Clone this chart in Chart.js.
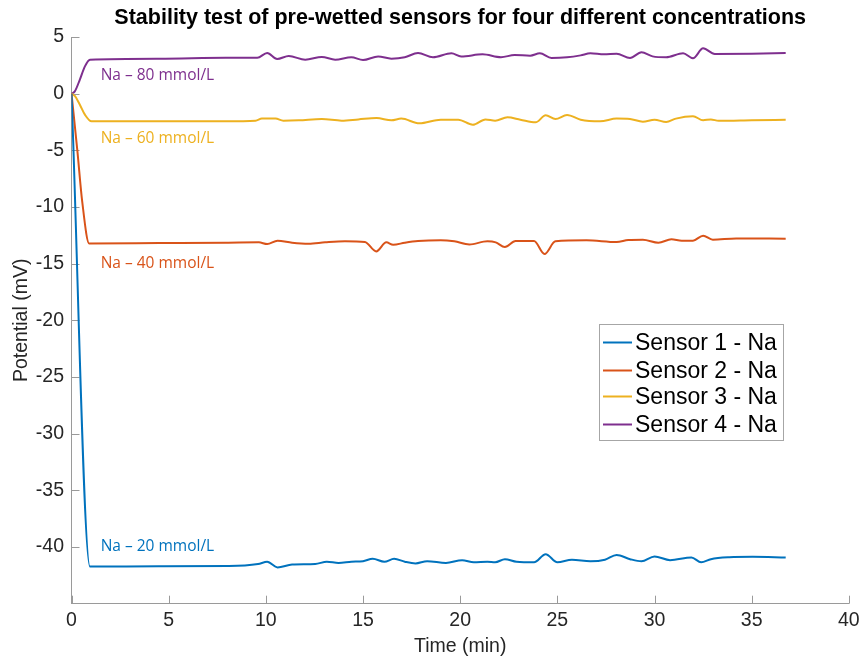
<!DOCTYPE html>
<html><head><meta charset="utf-8">
<script src="https://cdn.jsdelivr.net/npm/chart.js@4.4.0/dist/chart.umd.min.js"></script>
<style>html,body{margin:0;padding:0;background:#fff}</style>
</head><body>
<canvas id="c" width="865" height="659"></canvas>
<script>
// ---- data (time in min, potential in mV) ----
const timesS1 = [0, 0.95, 4.5, 8.1, 9.6, 10.07, 10.6, 11.35, 12.54, 13.14, 13.74, 14.4, 15.0, 15.5, 16.1, 16.6, 17.15, 17.7, 18.3, 19.27, 20.1, 20.7, 21.4, 21.8, 22.3, 22.9, 23.8, 24.4, 25.0, 25.75, 26.7, 27.45, 28.05, 28.74, 29.33, 30.0, 30.8, 31.9, 32.4, 32.9, 33.85, 35.05, 36.75];
const valuesS1 = [0, -41.72, -41.7, -41.68, -41.5, -41.3, -41.8, -41.55, -41.5, -41.3, -41.4, -41.3, -41.25, -41.04, -41.3, -41.04, -41.3, -41.45, -41.25, -41.4, -41.16, -41.35, -41.3, -41.35, -41.07, -41.3, -41.35, -40.63, -41.35, -41.12, -41.26, -41.12, -40.7, -41.07, -41.26, -40.83, -41.16, -40.92, -41.34, -41.07, -40.9, -40.86, -40.92];

const timesS2 = [0, 0.3, 0.55, 0.91, 4.5, 7.94, 9.64, 10.07, 10.6, 11.35, 12.2, 13.05, 14.07, 15.1, 15.68, 16.2, 16.55, 17.15, 17.83, 19.0, 19.7, 20.47, 21.4, 21.83, 22.3, 22.85, 23.8, 24.34, 24.9, 26.5, 28.05, 28.65, 29.4, 30.2, 30.87, 31.4, 31.98, 32.5, 33.0, 34.2, 36.75];
const valuesS2 = [0, -5, -9.5, -13.21, -13.18, -13.15, -13.12, -13.27, -12.97, -13.15, -13.24, -13.12, -13.03, -13.09, -13.92, -13.12, -13.33, -13.15, -13.0, -12.93, -13.03, -13.3, -13.03, -13.12, -13.53, -13.0, -13.0, -14.15, -13.03, -12.94, -13.09, -12.91, -12.88, -13.15, -12.85, -12.97, -12.97, -12.53, -12.88, -12.77, -12.8];

const timesS3 = [0, 0.17, 0.43, 0.69, 1.03, 7.94, 9.47, 9.8, 10.5, 10.9, 11.7, 12.88, 13.9, 14.76, 15.7, 16.46, 16.97, 17.9, 19.0, 19.9, 20.65, 21.3, 21.8, 22.43, 23.1, 23.88, 24.4, 24.9, 25.5, 26.2, 27.2, 28.05, 28.74, 29.4, 30.0, 30.6, 31.1, 31.98, 32.5, 32.9, 33.3, 35.0, 36.75];
const valuesS3 = [0, -0.2, -0.97, -1.85, -2.44, -2.44, -2.38, -2.2, -2.2, -2.38, -2.35, -2.24, -2.38, -2.27, -2.15, -2.35, -2.2, -2.62, -2.3, -2.3, -2.74, -2.27, -2.38, -2.09, -2.3, -2.53, -1.91, -2.24, -1.88, -2.3, -2.44, -2.2, -2.24, -2.47, -2.3, -2.5, -2.2, -1.99, -2.35, -2.27, -2.4, -2.35, -2.3];

const timesS4 = [0, 0.17, 0.43, 0.69, 0.95, 4.5, 7.94, 9.56, 10.07, 10.58, 11.18, 12.03, 12.88, 13.57, 14.4, 15.0, 15.78, 16.46, 17.15, 17.83, 18.6, 19.55, 20.05, 21.15, 22.1, 22.8, 23.6, 24.1, 24.7, 25.5, 26.2, 26.7, 27.4, 28.05, 28.74, 29.33, 29.9, 30.6, 31.47, 31.98, 32.5, 33.1, 35.0, 36.75];
const valuesS4 = [0, 0.2, 1.24, 2.41, 3.0, 3.09, 3.17, 3.17, 3.59, 3.06, 3.32, 3.0, 3.24, 3.0, 3.21, 2.97, 3.29, 3.09, 3.21, 3.59, 3.21, 3.56, 3.28, 3.47, 3.21, 3.41, 3.35, 3.56, 3.15, 3.21, 3.38, 3.56, 3.47, 3.53, 3.15, 3.65, 3.29, 3.21, 3.56, 3.12, 4.0, 3.5, 3.53, 3.59];

const seriesNames = ['Sensor 1 - Na', 'Sensor 2 - Na', 'Sensor 3 - Na', 'Sensor 4 - Na'];
const annotationTexts = ['Na \u2013 20 mmol/L', 'Na \u2013 40 mmol/L', 'Na \u2013 60 mmol/L', 'Na \u2013 80 mmol/L'];
const chartTitle = 'Stability test of pre-wetted sensors for four different concentrations';
const xTickStep = 5;
const yTickStep = 5;

// ---- styles / layout ----
const colors = ['#0072BD', '#D95319', '#EDB120', '#7E2F8E'];
const annotationAnchors = [[1.5, -39.98], [1.5, -15.0], [1.5, -3.97], [1.5, 1.59]];
const AXIS_COLOR = '#9a9a9a';
const TEXT_COLOR = '#262626';
const FONT = "'Liberation Sans', Arial, Helvetica, sans-serif";

function toPoints(ts, vs) { return ts.map((t, i) => ({x: t, y: vs[i]})); }
const allTimes = [timesS1, timesS2, timesS3, timesS4];
const allValues = [valuesS1, valuesS2, valuesS3, valuesS4];

const datasets = allTimes.map((ts, i) => ({
  label: seriesNames[i],
  data: toPoints(ts, allValues[i]),
  borderColor: colors[i],
  backgroundColor: colors[i],
  borderWidth: 2,
  pointRadius: 0,
  fill: false,
  cubicInterpolationMode: 'monotone'
}));

const innerTicks = {
  id: 'innerTicks',
  beforeDatasetsDraw(chart) {
    const {ctx, scales: {x, y}, chartArea} = chart;
    ctx.save();
    ctx.strokeStyle = AXIS_COLOR;
    ctx.lineWidth = 1;
    ctx.beginPath();
    x.ticks.forEach(t => {
      const px = Math.round(x.getPixelForValue(t.value)) + 0.5;
      ctx.moveTo(px, chartArea.bottom); ctx.lineTo(px, chartArea.bottom - 8);
    });
    y.ticks.forEach(t => {
      if (t.value <= y.min) return;
      const py = Math.round(y.getPixelForValue(t.value)) + 0.5;
      ctx.moveTo(chartArea.left, py); ctx.lineTo(chartArea.left + 8, py);
    });
    ctx.stroke();
    ctx.restore();
  }
};

const centeredTitle = {
  id: 'centeredTitle',
  afterDraw(chart) {
    const {ctx, chartArea} = chart;
    ctx.save();
    ctx.font = 'bold 21.5px ' + FONT;
    ctx.fillStyle = '#000';
    ctx.textAlign = 'center';
    ctx.textBaseline = 'middle';
    ctx.fillText(chartTitle, (chartArea.left + chartArea.right) / 2, 18);
    ctx.restore();
  }
};

const annotations = {
  id: 'annotations',
  afterDatasetsDraw(chart) {
    const {ctx, scales: {x, y}} = chart;
    ctx.save();
    ctx.font = "15.5px 'Open Sans', 'Noto Sans', sans-serif";
    ctx.textAlign = 'left';
    ctx.textBaseline = 'middle';
    annotationTexts.forEach((txt, i) => {
      ctx.fillStyle = colors[i];
      ctx.fillText(txt, x.getPixelForValue(annotationAnchors[i][0]), y.getPixelForValue(annotationAnchors[i][1]));
    });
    ctx.restore();
  }
};

const boxLegend = {
  id: 'boxLegend',
  afterDraw(chart) {
    const {ctx} = chart;
    const bx = 599.5, by = 324.5, bw = 184, bh = 116;
    ctx.save();
    ctx.fillStyle = '#fff';
    ctx.fillRect(bx, by, bw, bh);
    ctx.strokeStyle = '#a6a6a6';
    ctx.lineWidth = 1;
    ctx.strokeRect(bx, by, bw, bh);
    ctx.font = '23px ' + FONT;
    ctx.textAlign = 'left';
    ctx.textBaseline = 'middle';
    const rows = [342.5, 370.5, 396.5, 424.5];
    seriesNames.forEach((name, i) => {
      ctx.strokeStyle = colors[i];
      ctx.lineWidth = 2;
      ctx.beginPath();
      ctx.moveTo(603, rows[i]); ctx.lineTo(632, rows[i]);
      ctx.stroke();
      ctx.fillStyle = '#000';
      ctx.fillText(name, 635, rows[i] + 1);
    });
    ctx.restore();
  }
};

new Chart(document.getElementById('c'), {
  type: 'line',
  data: {datasets},
  plugins: [innerTicks, annotations, boxLegend, centeredTitle],
  options: {
    responsive: false,
    animation: false,
    devicePixelRatio: 1,
    layout: {padding: {left: 0, right: 11.5, top: 37, bottom: 0}},
    plugins: {
      legend: {display: false},
      tooltip: {enabled: false},
      title: {display: false}
    },
    scales: {
      x: {
        type: 'linear',
        min: 0, max: 40,
        afterFit(s) { s.height = 55.3; },
        ticks: {stepSize: xTickStep, color: TEXT_COLOR, font: {family: FONT, size: 19.5}, padding: 5.3, maxRotation: 0},
        grid: {drawOnChartArea: false, drawTicks: false},
        border: {display: true, color: AXIS_COLOR, width: 1},
        title: {display: true, text: 'Time (min)', color: TEXT_COLOR, font: {family: FONT, size: 19.5}, padding: {top: 0, bottom: 0.3}}
      },
      y: {
        type: 'linear',
        min: -45, max: 5,
        afterFit(s) { s.width = 71.5; },
        ticks: {stepSize: yTickStep, color: TEXT_COLOR, font: {family: FONT, size: 19.5}, padding: 7.5,
          callback: v => (v <= -45 ? '' : v)},
        grid: {drawOnChartArea: false, drawTicks: false},
        border: {display: true, color: AXIS_COLOR, width: 1},
        title: {display: true, text: 'Potential (mV)', color: TEXT_COLOR, font: {family: FONT, size: 19.5}, padding: {top: 10.3, bottom: 0}}
      }
    }
  }
});
</script>
</body></html>
